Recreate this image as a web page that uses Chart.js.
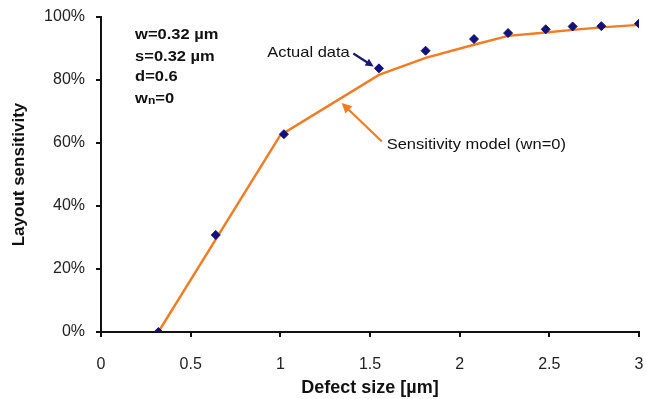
<!DOCTYPE html>
<html>
<head>
<meta charset="utf-8">
<script src="https://cdn.jsdelivr.net/npm/chart.js@4/dist/chart.umd.min.js"></script>
<style>
  html, body { margin: 0; padding: 0; background: #fff; }
  #wrap { width: 646px; height: 399px; }
</style>
</head>
<body>
<div id="wrap"><canvas id="c" width="646" height="399"></canvas></div>
<script>
// Actual measured data (defect size µm, sensitivity %)
const actualX = [0.32, 0.64, 1.02, 1.55, 1.81, 2.08, 2.27, 2.48, 2.63, 2.79, 3.0];
const actualY = [0, 30.8, 62.8, 83.7, 89.3, 93.0, 94.9, 96.1, 97.0, 97.1, 97.9];
// Sensitivity model (wn=0)
const modelX = [0.32, 1.0, 1.55, 1.81, 2.08, 2.27, 2.48, 2.63, 2.79, 3.0];
const modelY = [0, 62.5, 81.6, 87.0, 91.2, 94.0, 95.1, 95.9, 96.7, 97.5];
// Axis ticks
const xTickValues = [0, 0.5, 1, 1.5, 2, 2.5, 3];
const yTickValues = [0, 20, 40, 60, 80, 100];
// Texts
const paramLines = ["w=0.32 µm", "s=0.32 µm", "d=0.6"];
const actualLabel = "Actual data";
const modelLabel = "Sensitivity model (wn=0)";
const xTitle = "Defect size [µm]";
const yTitle = "Layout sensitivity";

const FONT = "'Liberation Sans', Arial, Helvetica, sans-serif";

function arrow(ctx, x1, y1, x2, y2, color, head) {
  const ang = Math.atan2(y2 - y1, x2 - x1);
  ctx.save();
  ctx.strokeStyle = color; ctx.fillStyle = color; ctx.lineWidth = 2.2;
  ctx.beginPath();
  ctx.moveTo(x1, y1);
  ctx.lineTo(x2 - Math.cos(ang) * head * 0.8, y2 - Math.sin(ang) * head * 0.8);
  ctx.stroke();
  ctx.beginPath();
  ctx.moveTo(x2, y2);
  ctx.lineTo(x2 - head * Math.cos(ang) + head * 0.5 * Math.sin(ang), y2 - head * Math.sin(ang) - head * 0.5 * Math.cos(ang));
  ctx.lineTo(x2 - head * Math.cos(ang) - head * 0.5 * Math.sin(ang), y2 - head * Math.sin(ang) + head * 0.5 * Math.cos(ang));
  ctx.closePath();
  ctx.fill();
  ctx.restore();
}

const annot = {
  id: 'annot',
  afterDatasetsDraw(chart) {
    const ctx = chart.ctx;
    const xs = chart.scales.x, ys = chart.scales.y;
    const px = v => xs.getPixelForValue(v), py = v => ys.getPixelForValue(v);
    ctx.save();
    ctx.textBaseline = 'middle';
    ctx.textAlign = 'left';
    // parameter block
    ctx.fillStyle = '#111';
    const pyVals = [94.4, 87.5, 80.9, 74.1];
    paramLines.forEach((t, i) => {
      ctx.save();
      ctx.translate(px(0.19), py(pyVals[i]));
      ctx.scale(1.1, 1);
      ctx.font = "bold 15px " + FONT;
      ctx.fillText(t, 0, 0);
      ctx.restore();
    });
    // w_n = 0
    ctx.save();
    ctx.translate(px(0.19), py(pyVals[3]));
    ctx.scale(1.1, 1);
    ctx.font = "bold 15px " + FONT;
    ctx.fillText("w", 0, 0);
    let w = ctx.measureText("w").width;
    ctx.font = "bold 11px " + FONT;
    ctx.fillText("n", w, 2);
    w += ctx.measureText("n").width;
    ctx.font = "bold 15px " + FONT;
    ctx.fillText("=0", w, 0);
    ctx.restore();

    // Actual data label
    ctx.fillStyle = '#111';
    ctx.save();
    ctx.translate(px(0.927), py(88.6));
    ctx.scale(1.1, 1);
    ctx.font = "15px " + FONT;
    ctx.fillText(actualLabel, 0, 0);
    ctx.restore();
    arrow(ctx, px(1.407), py(88.4), px(1.52), py(84.3), '#1a1a6e', 8);

    // Model label
    ctx.save();
    ctx.translate(px(1.593), py(59.5));
    ctx.scale(1.1, 1);
    ctx.font = "15px " + FONT;
    ctx.fillText(modelLabel, 0, 0);
    ctx.restore();
    arrow(ctx, px(1.566), py(60.5), px(1.342), py(72.7), '#F47B20', 10);
    ctx.restore();
  }
};

new Chart(document.getElementById('c'), {
  data: {
    datasets: [
      {
        type: 'scatter',
        label: 'Actual data',
        data: actualX.map((x, i) => ({ x, y: actualY[i] })),
        pointStyle: 'rectRot',
        pointRadius: 4.5,
        pointBackgroundColor: '#12127a',
        pointBorderColor: '#12127a',
        order: 0
      },
      {
        type: 'line',
        label: 'Sensitivity model',
        data: modelX.map((x, i) => ({ x, y: modelY[i] })),
        borderColor: '#F47B20',
        borderWidth: 2.4,
        pointRadius: 0,
        tension: 0,
        fill: false,
        order: 1
      }
    ]
  },
  options: {
    responsive: false,
    animation: false,
    devicePixelRatio: 1,
    layout: { padding: { top: 17, right: 7, bottom: 0, left: 0 } },
    plugins: { legend: { display: false }, tooltip: { enabled: false } },
    scales: {
      x: {
        type: 'linear',
        min: 0, max: 3,
        afterBuildTicks: s => { s.ticks = xTickValues.map(v => ({ value: v })); },
        afterFit: s => { s.height = 67; s.paddingLeft = 0; s.paddingRight = 0; },
        ticks: { color: '#222', font: { family: FONT, size: 16 }, padding: 18, maxRotation: 0, callback: v => String(v) },
        grid: { display: true, drawOnChartArea: false, drawTicks: true, tickLength: 5, color: '#111', lineWidth: 2 },
        border: { display: true, color: '#111', width: 2 },
        title: { display: true, text: xTitle, color: '#111', font: { family: FONT, size: 18, weight: 'bold' }, padding: { top: 0, bottom: 0 } }
      },
      y: {
        type: 'linear',
        min: 0, max: 100,
        afterBuildTicks: s => { s.ticks = yTickValues.map(v => ({ value: v })); },
        afterFit: s => { s.width = 101; s.paddingTop = 0; s.paddingBottom = 0; },
        ticks: { color: '#222', font: { family: FONT, size: 16 }, padding: 11, callback: v => v + '%' },
        grid: { display: true, drawOnChartArea: false, drawTicks: true, tickLength: 5, color: '#111', lineWidth: 2 },
        border: { display: true, color: '#111', width: 2 },
        title: { display: true, text: yTitle, color: '#111', font: { family: FONT, size: 17, weight: 'bold' }, padding: { top: 9, bottom: 0 } }
      }
    }
  },
  plugins: [annot]
});
</script>
</body>
</html>
